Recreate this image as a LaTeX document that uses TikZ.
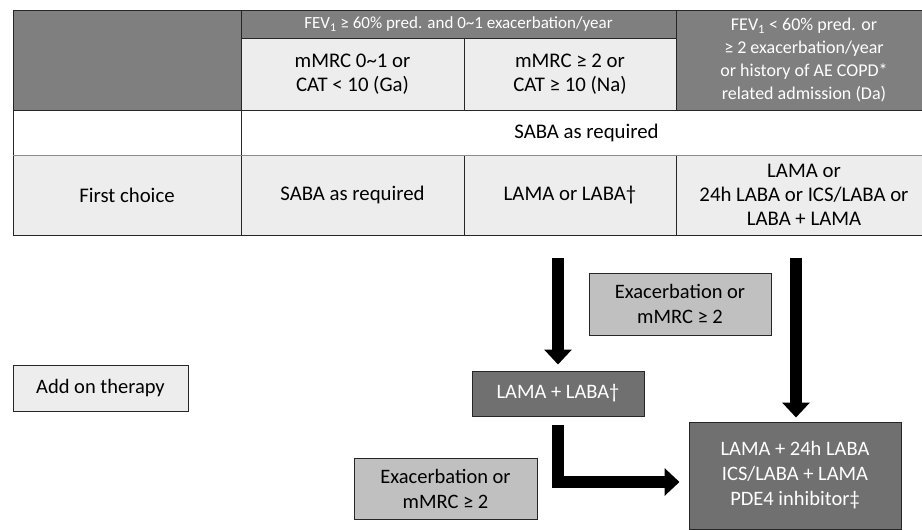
\documentclass[tikz,border=0pt]{standalone}
\usepackage{fontspec}
\setmainfont{Carlito}
\usetikzlibrary{arrows.meta}
\definecolor{hdr}{HTML}{7F7F7F}
\definecolor{dbox}{HTML}{707070}
\definecolor{lcell}{HTML}{EDEDED}
\definecolor{mbox}{HTML}{C0C0C0}
\begin{document}
\begin{tikzpicture}[x=1pt,y=-1pt,
 cell/.style={draw=black!85, line width=1pt, inner sep=0pt, outer sep=0pt, align=center, font=\fontsize{20.8}{24}\selectfont, text=black},
 hcell/.style={cell, fill=hdr, text=white, font=\fontsize{18}{23}\selectfont},
 bigarrow/.style={line width=12pt, -{Triangle[width=27pt,length=15pt]}, line join=miter},
 box/.style={draw=black!85, line width=1pt, align=center, inner sep=0pt, font=\fontsize{20.5}{25}\selectfont}]
\useasboundingbox (0,0) rectangle (922,530);
% header
\node[hcell, minimum width=228pt, minimum height=100pt] (lh) at (127,60) {};
\node[hcell, minimum width=435pt, minimum height=28pt, font=\fontsize{17}{20}\selectfont] (top) at (458.5,24) {FEV\textsubscript{1} ≥ 60\% pred. and 0\textasciitilde1 exacerbation/year};
\node[cell, fill=lcell, minimum width=223pt, minimum height=72pt] (ga) at (352.5,74) {mMRC 0\textasciitilde1 or\\CAT < 10 (Ga)};
\node[cell, fill=lcell, minimum width=212pt, minimum height=72pt] (na) at (570,74) {mMRC ≥ 2 or\\CAT ≥ 10 (Na)};
\node[hcell, minimum width=256pt, minimum height=100pt] (da) at (804,60) {FEV\textsubscript{1} < 60\% pred. or\\≥ 2 exacerbation/year\\or history of AE COPD*\\related admission (Da)};
% first choice row
\node[cell, fill=lcell, minimum width=228pt, minimum height=80pt] (fc0) at (127,195) {First choice};
\node[cell, fill=lcell, minimum width=223pt, minimum height=80pt] (fc1) at (352.5,195) {SABA as required};
\node[cell, fill=lcell, minimum width=212pt, minimum height=80pt] (fc2) at (570,195) {LAMA or LABA†};
\node[cell, fill=lcell, minimum width=256pt, minimum height=80pt] (fc3) at (804,195) {LAMA or\\24h LABA or ICS/LABA or\\LABA + LAMA};
% SABA row
\node[cell, fill=white, minimum width=228pt, minimum height=45pt] (sl) at (127,132.5) {};
\node[cell, fill=white, minimum width=691pt, minimum height=45pt] (sr) at (586.5,132.5) {SABA as required};
\draw[black!45, line width=1pt] (sl.south west) -- (sr.south east);
% lower part
\node[box, fill=lcell, minimum width=175pt, minimum height=46pt] (addon) at (100.5,388) {Add on therapy};
\node[box, fill=mbox, minimum width=182pt, minimum height=62pt] (ex1) at (680,304) {Exacerbation or\\mMRC ≥ 2};
\node[box, fill=mbox, minimum width=183pt, minimum height=61pt] (ex2) at (445.5,488.5) {Exacerbation or\\mMRC ≥ 2};
\node[box, fill=dbox, text=white, minimum width=172pt, minimum height=45pt] (lamalaba) at (558,393.5) {LAMA + LABA†};
\node[box, fill=dbox, text=white, minimum width=212pt, minimum height=107pt] (big) at (795,475.5) {LAMA + 24h LABA\\ICS/LABA + LAMA\\PDE4 inhibitor‡};
% arrows
\coordinate (a1) at (558,258);
\coordinate (a2) at (796,258);
\coordinate (el) at (558,482);
\draw[bigarrow, shorten >=6pt] (a1) -- (a1 |- lamalaba.north);
\draw[bigarrow, shorten >=4pt] (a2) -- (a2 |- big.north);
\draw[bigarrow, shorten <=8pt, shorten >=9pt] (lamalaba.south) -- (el) -- (el -| big.west);
\end{tikzpicture}
\end{document}
